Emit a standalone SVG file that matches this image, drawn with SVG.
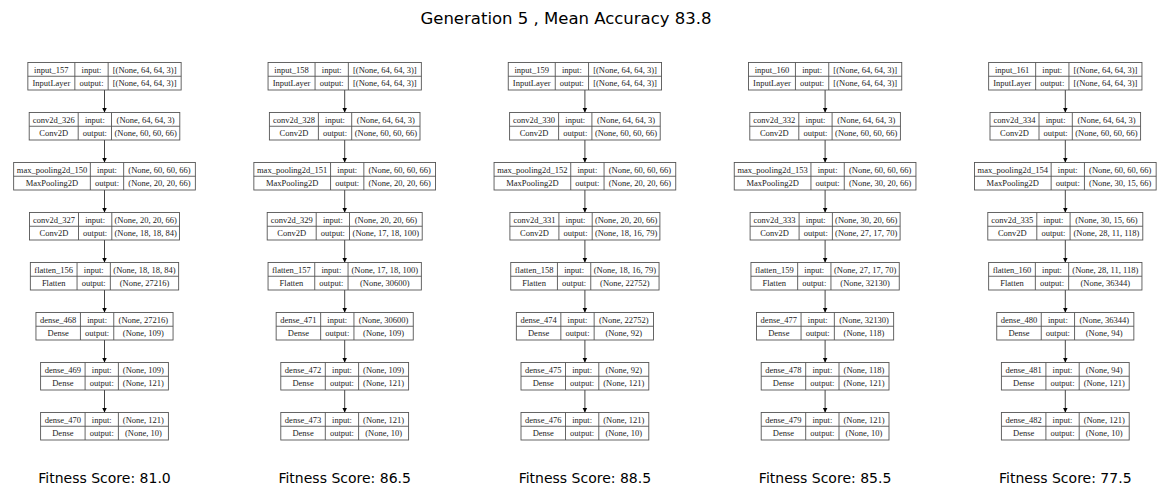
<svg xmlns="http://www.w3.org/2000/svg" width="1169" height="496" viewBox="0 0 1169 496">
<style>
.b rect{fill:#fff;stroke:#555;stroke-width:0.9}
.b line{stroke:#555;stroke-width:0.9}
.b text{font-family:"Liberation Serif","Times New Roman",serif;font-size:8.5px;fill:#222;text-anchor:middle}
.e line{stroke:#444;stroke-width:1}
.h{font-family:"DejaVu Sans",sans-serif;fill:#000;text-anchor:middle}
</style>
<defs>
<marker id="ah" viewBox="0 0 10 10" refX="10" refY="5" markerWidth="5" markerHeight="5.5" markerUnits="userSpaceOnUse" orient="auto">
<path d="M0,0 L10,5 L0,10 z" fill="#000"/>
</marker>
</defs>
<rect width="1169" height="496" fill="#fff"/>
<text class="h" x="566" y="24" font-size="16.5">Generation 5 , Mean Accuracy 83.8</text>

<g class="e" marker-end="url(#ah)">
<line x1="104.5" y1="90" x2="104.5" y2="112.5" marker-end="url(#ah)"/><line x1="104.5" y1="140" x2="104.5" y2="162.5" marker-end="url(#ah)"/><line x1="104.5" y1="190" x2="104.5" y2="212.5" marker-end="url(#ah)"/><line x1="104.5" y1="240" x2="104.5" y2="262.5" marker-end="url(#ah)"/><line x1="104.5" y1="290" x2="104.5" y2="312.5" marker-end="url(#ah)"/><line x1="104.5" y1="340" x2="104.5" y2="362.5" marker-end="url(#ah)"/><line x1="104.5" y1="390" x2="104.5" y2="412.5" marker-end="url(#ah)"/>
<line x1="344.7" y1="90" x2="344.7" y2="112.5" marker-end="url(#ah)"/><line x1="344.7" y1="140" x2="344.7" y2="162.5" marker-end="url(#ah)"/><line x1="344.7" y1="190" x2="344.7" y2="212.5" marker-end="url(#ah)"/><line x1="344.7" y1="240" x2="344.7" y2="262.5" marker-end="url(#ah)"/><line x1="344.7" y1="290" x2="344.7" y2="312.5" marker-end="url(#ah)"/><line x1="344.7" y1="340" x2="344.7" y2="362.5" marker-end="url(#ah)"/><line x1="344.7" y1="390" x2="344.7" y2="412.5" marker-end="url(#ah)"/>
<line x1="584.9" y1="90" x2="584.9" y2="112.5" marker-end="url(#ah)"/><line x1="584.9" y1="140" x2="584.9" y2="162.5" marker-end="url(#ah)"/><line x1="584.9" y1="190" x2="584.9" y2="212.5" marker-end="url(#ah)"/><line x1="584.9" y1="240" x2="584.9" y2="262.5" marker-end="url(#ah)"/><line x1="584.9" y1="290" x2="584.9" y2="312.5" marker-end="url(#ah)"/><line x1="584.9" y1="340" x2="584.9" y2="362.5" marker-end="url(#ah)"/><line x1="584.9" y1="390" x2="584.9" y2="412.5" marker-end="url(#ah)"/>
<line x1="825.1" y1="90" x2="825.1" y2="112.5" marker-end="url(#ah)"/><line x1="825.1" y1="140" x2="825.1" y2="162.5" marker-end="url(#ah)"/><line x1="825.1" y1="190" x2="825.1" y2="212.5" marker-end="url(#ah)"/><line x1="825.1" y1="240" x2="825.1" y2="262.5" marker-end="url(#ah)"/><line x1="825.1" y1="290" x2="825.1" y2="312.5" marker-end="url(#ah)"/><line x1="825.1" y1="340" x2="825.1" y2="362.5" marker-end="url(#ah)"/><line x1="825.1" y1="390" x2="825.1" y2="412.5" marker-end="url(#ah)"/>
<line x1="1065.3" y1="90" x2="1065.3" y2="112.5" marker-end="url(#ah)"/><line x1="1065.3" y1="140" x2="1065.3" y2="162.5" marker-end="url(#ah)"/><line x1="1065.3" y1="190" x2="1065.3" y2="212.5" marker-end="url(#ah)"/><line x1="1065.3" y1="240" x2="1065.3" y2="262.5" marker-end="url(#ah)"/><line x1="1065.3" y1="290" x2="1065.3" y2="312.5" marker-end="url(#ah)"/><line x1="1065.3" y1="340" x2="1065.3" y2="362.5" marker-end="url(#ah)"/><line x1="1065.3" y1="390" x2="1065.3" y2="412.5" marker-end="url(#ah)"/>
</g>

<!-- Column 1 -->
<g id="input_157" class="b" transform="translate(27.85,62.5)"><rect width="153.3" height="27.5"/><line x1="0" y1="13.75" x2="153.3" y2="13.75"/><line x1="47" y1="0" x2="47" y2="27.5"/><line x1="80.3" y1="0" x2="80.3" y2="27.5"/><text x="23.5" y="10">input_157</text><text x="23.5" y="23.7">InputLayer</text><text x="63.65" y="10">input:</text><text x="63.65" y="23.7">output:</text><text x="116.8" y="10">[(None, 64, 64, 3)]</text><text x="116.8" y="23.7">[(None, 64, 64, 3)]</text></g>
<g id="conv2d_326" class="b" transform="translate(29.2,112.5)"><rect width="150.6" height="27.5"/><line x1="0" y1="13.75" x2="150.6" y2="13.75"/><line x1="49" y1="0" x2="49" y2="27.5"/><line x1="82.3" y1="0" x2="82.3" y2="27.5"/><text x="24.5" y="10">conv2d_326</text><text x="24.5" y="23.7">Conv2D</text><text x="65.65" y="10">input:</text><text x="65.65" y="23.7">output:</text><text x="116.45" y="10">(None, 64, 64, 3)</text><text x="116.45" y="23.7">(None, 60, 60, 66)</text></g>
<g id="max_pooling2d_150" class="b" transform="translate(13.65,162.5)"><rect width="181.7" height="27.5"/><line x1="0" y1="13.75" x2="181.7" y2="13.75"/><line x1="76.7" y1="0" x2="76.7" y2="27.5"/><line x1="110" y1="0" x2="110" y2="27.5"/><text x="38.35" y="10">max_pooling2d_150</text><text x="38.35" y="23.7">MaxPooling2D</text><text x="93.35" y="10">input:</text><text x="93.35" y="23.7">output:</text><text x="145.85" y="10">(None, 60, 60, 66)</text><text x="145.85" y="23.7">(None, 20, 20, 66)</text></g>
<g id="conv2d_327" class="b" transform="translate(29.5,212.5)"><rect width="150" height="27.5"/><line x1="0" y1="13.75" x2="150" y2="13.75"/><line x1="49" y1="0" x2="49" y2="27.5"/><line x1="82.3" y1="0" x2="82.3" y2="27.5"/><text x="24.5" y="10">conv2d_327</text><text x="24.5" y="23.7">Conv2D</text><text x="65.65" y="10">input:</text><text x="65.65" y="23.7">output:</text><text x="116.15" y="10">(None, 20, 20, 66)</text><text x="116.15" y="23.7">(None, 18, 18, 84)</text></g>
<g id="flatten_156" class="b" transform="translate(30.35,262.5)"><rect width="148.3" height="27.5"/><line x1="0" y1="13.75" x2="148.3" y2="13.75"/><line x1="46.7" y1="0" x2="46.7" y2="27.5"/><line x1="80" y1="0" x2="80" y2="27.5"/><text x="23.35" y="10">flatten_156</text><text x="23.35" y="23.7">Flatten</text><text x="63.35" y="10">input:</text><text x="63.35" y="23.7">output:</text><text x="114.15" y="10">(None, 18, 18, 84)</text><text x="114.15" y="23.7">(None, 27216)</text></g>
<g id="dense_468" class="b" transform="translate(35.95,312.5)"><rect width="137.1" height="27.5"/><line x1="0" y1="13.75" x2="137.1" y2="13.75"/><line x1="44.5" y1="0" x2="44.5" y2="27.5"/><line x1="77.8" y1="0" x2="77.8" y2="27.5"/><text x="22.25" y="10">dense_468</text><text x="22.25" y="23.7">Dense</text><text x="61.15" y="10">input:</text><text x="61.15" y="23.7">output:</text><text x="107.45" y="10">(None, 27216)</text><text x="107.45" y="23.7">(None, 109)</text></g>
<g id="dense_469" class="b" transform="translate(40.6,362.5)"><rect width="127.8" height="27.5"/><line x1="0" y1="13.75" x2="127.8" y2="13.75"/><line x1="44.5" y1="0" x2="44.5" y2="27.5"/><line x1="77.8" y1="0" x2="77.8" y2="27.5"/><text x="22.25" y="10">dense_469</text><text x="22.25" y="23.7">Dense</text><text x="61.15" y="10">input:</text><text x="61.15" y="23.7">output:</text><text x="102.8" y="10">(None, 109)</text><text x="102.8" y="23.7">(None, 121)</text></g>
<g id="dense_470" class="b" transform="translate(40.6,412.5)"><rect width="127.8" height="27.5"/><line x1="0" y1="13.75" x2="127.8" y2="13.75"/><line x1="44.5" y1="0" x2="44.5" y2="27.5"/><line x1="77.8" y1="0" x2="77.8" y2="27.5"/><text x="22.25" y="10">dense_470</text><text x="22.25" y="23.7">Dense</text><text x="61.15" y="10">input:</text><text x="61.15" y="23.7">output:</text><text x="102.8" y="10">(None, 121)</text><text x="102.8" y="23.7">(None, 10)</text></g>

<!-- Column 2 -->
<g id="input_158" class="b" transform="translate(268.05,62.5)"><rect width="153.3" height="27.5"/><line x1="0" y1="13.75" x2="153.3" y2="13.75"/><line x1="47" y1="0" x2="47" y2="27.5"/><line x1="80.3" y1="0" x2="80.3" y2="27.5"/><text x="23.5" y="10">input_158</text><text x="23.5" y="23.7">InputLayer</text><text x="63.65" y="10">input:</text><text x="63.65" y="23.7">output:</text><text x="116.8" y="10">[(None, 64, 64, 3)]</text><text x="116.8" y="23.7">[(None, 64, 64, 3)]</text></g>
<g id="conv2d_328" class="b" transform="translate(269.4,112.5)"><rect width="150.6" height="27.5"/><line x1="0" y1="13.75" x2="150.6" y2="13.75"/><line x1="49" y1="0" x2="49" y2="27.5"/><line x1="82.3" y1="0" x2="82.3" y2="27.5"/><text x="24.5" y="10">conv2d_328</text><text x="24.5" y="23.7">Conv2D</text><text x="65.65" y="10">input:</text><text x="65.65" y="23.7">output:</text><text x="116.45" y="10">(None, 64, 64, 3)</text><text x="116.45" y="23.7">(None, 60, 60, 66)</text></g>
<g id="max_pooling2d_151" class="b" transform="translate(253.85,162.5)"><rect width="181.7" height="27.5"/><line x1="0" y1="13.75" x2="181.7" y2="13.75"/><line x1="76.7" y1="0" x2="76.7" y2="27.5"/><line x1="110" y1="0" x2="110" y2="27.5"/><text x="38.35" y="10">max_pooling2d_151</text><text x="38.35" y="23.7">MaxPooling2D</text><text x="93.35" y="10">input:</text><text x="93.35" y="23.7">output:</text><text x="145.85" y="10">(None, 60, 60, 66)</text><text x="145.85" y="23.7">(None, 20, 20, 66)</text></g>
<g id="conv2d_329" class="b" transform="translate(267.2,212.5)"><rect width="155" height="27.5"/><line x1="0" y1="13.75" x2="155" y2="13.75"/><line x1="49" y1="0" x2="49" y2="27.5"/><line x1="82.3" y1="0" x2="82.3" y2="27.5"/><text x="24.5" y="10">conv2d_329</text><text x="24.5" y="23.7">Conv2D</text><text x="65.65" y="10">input:</text><text x="65.65" y="23.7">output:</text><text x="118.65" y="10">(None, 20, 20, 66)</text><text x="118.65" y="23.7">(None, 17, 18, 100)</text></g>
<g id="flatten_157" class="b" transform="translate(268.05,262.5)"><rect width="153.3" height="27.5"/><line x1="0" y1="13.75" x2="153.3" y2="13.75"/><line x1="46.7" y1="0" x2="46.7" y2="27.5"/><line x1="80" y1="0" x2="80" y2="27.5"/><text x="23.35" y="10">flatten_157</text><text x="23.35" y="23.7">Flatten</text><text x="63.35" y="10">input:</text><text x="63.35" y="23.7">output:</text><text x="116.65" y="10">(None, 17, 18, 100)</text><text x="116.65" y="23.7">(None, 30600)</text></g>
<g id="dense_471" class="b" transform="translate(276.15,312.5)"><rect width="137.1" height="27.5"/><line x1="0" y1="13.75" x2="137.1" y2="13.75"/><line x1="44.5" y1="0" x2="44.5" y2="27.5"/><line x1="77.8" y1="0" x2="77.8" y2="27.5"/><text x="22.25" y="10">dense_471</text><text x="22.25" y="23.7">Dense</text><text x="61.15" y="10">input:</text><text x="61.15" y="23.7">output:</text><text x="107.45" y="10">(None, 30600)</text><text x="107.45" y="23.7">(None, 109)</text></g>
<g id="dense_472" class="b" transform="translate(280.8,362.5)"><rect width="127.8" height="27.5"/><line x1="0" y1="13.75" x2="127.8" y2="13.75"/><line x1="44.5" y1="0" x2="44.5" y2="27.5"/><line x1="77.8" y1="0" x2="77.8" y2="27.5"/><text x="22.25" y="10">dense_472</text><text x="22.25" y="23.7">Dense</text><text x="61.15" y="10">input:</text><text x="61.15" y="23.7">output:</text><text x="102.8" y="10">(None, 109)</text><text x="102.8" y="23.7">(None, 121)</text></g>
<g id="dense_473" class="b" transform="translate(280.8,412.5)"><rect width="127.8" height="27.5"/><line x1="0" y1="13.75" x2="127.8" y2="13.75"/><line x1="44.5" y1="0" x2="44.5" y2="27.5"/><line x1="77.8" y1="0" x2="77.8" y2="27.5"/><text x="22.25" y="10">dense_473</text><text x="22.25" y="23.7">Dense</text><text x="61.15" y="10">input:</text><text x="61.15" y="23.7">output:</text><text x="102.8" y="10">(None, 121)</text><text x="102.8" y="23.7">(None, 10)</text></g>

<!-- Column 3 -->
<g id="input_159" class="b" transform="translate(508.25,62.5)"><rect width="153.3" height="27.5"/><line x1="0" y1="13.75" x2="153.3" y2="13.75"/><line x1="47" y1="0" x2="47" y2="27.5"/><line x1="80.3" y1="0" x2="80.3" y2="27.5"/><text x="23.5" y="10">input_159</text><text x="23.5" y="23.7">InputLayer</text><text x="63.65" y="10">input:</text><text x="63.65" y="23.7">output:</text><text x="116.8" y="10">[(None, 64, 64, 3)]</text><text x="116.8" y="23.7">[(None, 64, 64, 3)]</text></g>
<g id="conv2d_330" class="b" transform="translate(509.6,112.5)"><rect width="150.6" height="27.5"/><line x1="0" y1="13.75" x2="150.6" y2="13.75"/><line x1="49" y1="0" x2="49" y2="27.5"/><line x1="82.3" y1="0" x2="82.3" y2="27.5"/><text x="24.5" y="10">conv2d_330</text><text x="24.5" y="23.7">Conv2D</text><text x="65.65" y="10">input:</text><text x="65.65" y="23.7">output:</text><text x="116.45" y="10">(None, 64, 64, 3)</text><text x="116.45" y="23.7">(None, 60, 60, 66)</text></g>
<g id="max_pooling2d_152" class="b" transform="translate(494.05,162.5)"><rect width="181.7" height="27.5"/><line x1="0" y1="13.75" x2="181.7" y2="13.75"/><line x1="76.7" y1="0" x2="76.7" y2="27.5"/><line x1="110" y1="0" x2="110" y2="27.5"/><text x="38.35" y="10">max_pooling2d_152</text><text x="38.35" y="23.7">MaxPooling2D</text><text x="93.35" y="10">input:</text><text x="93.35" y="23.7">output:</text><text x="145.85" y="10">(None, 60, 60, 66)</text><text x="145.85" y="23.7">(None, 20, 20, 66)</text></g>
<g id="conv2d_331" class="b" transform="translate(509.9,212.5)"><rect width="150" height="27.5"/><line x1="0" y1="13.75" x2="150" y2="13.75"/><line x1="49" y1="0" x2="49" y2="27.5"/><line x1="82.3" y1="0" x2="82.3" y2="27.5"/><text x="24.5" y="10">conv2d_331</text><text x="24.5" y="23.7">Conv2D</text><text x="65.65" y="10">input:</text><text x="65.65" y="23.7">output:</text><text x="116.15" y="10">(None, 20, 20, 66)</text><text x="116.15" y="23.7">(None, 18, 16, 79)</text></g>
<g id="flatten_158" class="b" transform="translate(510.75,262.5)"><rect width="148.3" height="27.5"/><line x1="0" y1="13.75" x2="148.3" y2="13.75"/><line x1="46.7" y1="0" x2="46.7" y2="27.5"/><line x1="80" y1="0" x2="80" y2="27.5"/><text x="23.35" y="10">flatten_158</text><text x="23.35" y="23.7">Flatten</text><text x="63.35" y="10">input:</text><text x="63.35" y="23.7">output:</text><text x="114.15" y="10">(None, 18, 16, 79)</text><text x="114.15" y="23.7">(None, 22752)</text></g>
<g id="dense_474" class="b" transform="translate(516.35,312.5)"><rect width="137.1" height="27.5"/><line x1="0" y1="13.75" x2="137.1" y2="13.75"/><line x1="44.5" y1="0" x2="44.5" y2="27.5"/><line x1="77.8" y1="0" x2="77.8" y2="27.5"/><text x="22.25" y="10">dense_474</text><text x="22.25" y="23.7">Dense</text><text x="61.15" y="10">input:</text><text x="61.15" y="23.7">output:</text><text x="107.45" y="10">(None, 22752)</text><text x="107.45" y="23.7">(None, 92)</text></g>
<g id="dense_475" class="b" transform="translate(521,362.5)"><rect width="127.8" height="27.5"/><line x1="0" y1="13.75" x2="127.8" y2="13.75"/><line x1="44.5" y1="0" x2="44.5" y2="27.5"/><line x1="77.8" y1="0" x2="77.8" y2="27.5"/><text x="22.25" y="10">dense_475</text><text x="22.25" y="23.7">Dense</text><text x="61.15" y="10">input:</text><text x="61.15" y="23.7">output:</text><text x="102.8" y="10">(None, 92)</text><text x="102.8" y="23.7">(None, 121)</text></g>
<g id="dense_476" class="b" transform="translate(521,412.5)"><rect width="127.8" height="27.5"/><line x1="0" y1="13.75" x2="127.8" y2="13.75"/><line x1="44.5" y1="0" x2="44.5" y2="27.5"/><line x1="77.8" y1="0" x2="77.8" y2="27.5"/><text x="22.25" y="10">dense_476</text><text x="22.25" y="23.7">Dense</text><text x="61.15" y="10">input:</text><text x="61.15" y="23.7">output:</text><text x="102.8" y="10">(None, 121)</text><text x="102.8" y="23.7">(None, 10)</text></g>

<!-- Column 4 -->
<g id="input_160" class="b" transform="translate(748.45,62.5)"><rect width="153.3" height="27.5"/><line x1="0" y1="13.75" x2="153.3" y2="13.75"/><line x1="47" y1="0" x2="47" y2="27.5"/><line x1="80.3" y1="0" x2="80.3" y2="27.5"/><text x="23.5" y="10">input_160</text><text x="23.5" y="23.7">InputLayer</text><text x="63.65" y="10">input:</text><text x="63.65" y="23.7">output:</text><text x="116.8" y="10">[(None, 64, 64, 3)]</text><text x="116.8" y="23.7">[(None, 64, 64, 3)]</text></g>
<g id="conv2d_332" class="b" transform="translate(749.8,112.5)"><rect width="150.6" height="27.5"/><line x1="0" y1="13.75" x2="150.6" y2="13.75"/><line x1="49" y1="0" x2="49" y2="27.5"/><line x1="82.3" y1="0" x2="82.3" y2="27.5"/><text x="24.5" y="10">conv2d_332</text><text x="24.5" y="23.7">Conv2D</text><text x="65.65" y="10">input:</text><text x="65.65" y="23.7">output:</text><text x="116.45" y="10">(None, 64, 64, 3)</text><text x="116.45" y="23.7">(None, 60, 60, 66)</text></g>
<g id="max_pooling2d_153" class="b" transform="translate(734.25,162.5)"><rect width="181.7" height="27.5"/><line x1="0" y1="13.75" x2="181.7" y2="13.75"/><line x1="76.7" y1="0" x2="76.7" y2="27.5"/><line x1="110" y1="0" x2="110" y2="27.5"/><text x="38.35" y="10">max_pooling2d_153</text><text x="38.35" y="23.7">MaxPooling2D</text><text x="93.35" y="10">input:</text><text x="93.35" y="23.7">output:</text><text x="145.85" y="10">(None, 60, 60, 66)</text><text x="145.85" y="23.7">(None, 30, 20, 66)</text></g>
<g id="conv2d_333" class="b" transform="translate(750.1,212.5)"><rect width="150" height="27.5"/><line x1="0" y1="13.75" x2="150" y2="13.75"/><line x1="49" y1="0" x2="49" y2="27.5"/><line x1="82.3" y1="0" x2="82.3" y2="27.5"/><text x="24.5" y="10">conv2d_333</text><text x="24.5" y="23.7">Conv2D</text><text x="65.65" y="10">input:</text><text x="65.65" y="23.7">output:</text><text x="116.15" y="10">(None, 30, 20, 66)</text><text x="116.15" y="23.7">(None, 27, 17, 70)</text></g>
<g id="flatten_159" class="b" transform="translate(750.95,262.5)"><rect width="148.3" height="27.5"/><line x1="0" y1="13.75" x2="148.3" y2="13.75"/><line x1="46.7" y1="0" x2="46.7" y2="27.5"/><line x1="80" y1="0" x2="80" y2="27.5"/><text x="23.35" y="10">flatten_159</text><text x="23.35" y="23.7">Flatten</text><text x="63.35" y="10">input:</text><text x="63.35" y="23.7">output:</text><text x="114.15" y="10">(None, 27, 17, 70)</text><text x="114.15" y="23.7">(None, 32130)</text></g>
<g id="dense_477" class="b" transform="translate(756.55,312.5)"><rect width="137.1" height="27.5"/><line x1="0" y1="13.75" x2="137.1" y2="13.75"/><line x1="44.5" y1="0" x2="44.5" y2="27.5"/><line x1="77.8" y1="0" x2="77.8" y2="27.5"/><text x="22.25" y="10">dense_477</text><text x="22.25" y="23.7">Dense</text><text x="61.15" y="10">input:</text><text x="61.15" y="23.7">output:</text><text x="107.45" y="10">(None, 32130)</text><text x="107.45" y="23.7">(None, 118)</text></g>
<g id="dense_478" class="b" transform="translate(761.2,362.5)"><rect width="127.8" height="27.5"/><line x1="0" y1="13.75" x2="127.8" y2="13.75"/><line x1="44.5" y1="0" x2="44.5" y2="27.5"/><line x1="77.8" y1="0" x2="77.8" y2="27.5"/><text x="22.25" y="10">dense_478</text><text x="22.25" y="23.7">Dense</text><text x="61.15" y="10">input:</text><text x="61.15" y="23.7">output:</text><text x="102.8" y="10">(None, 118)</text><text x="102.8" y="23.7">(None, 121)</text></g>
<g id="dense_479" class="b" transform="translate(761.2,412.5)"><rect width="127.8" height="27.5"/><line x1="0" y1="13.75" x2="127.8" y2="13.75"/><line x1="44.5" y1="0" x2="44.5" y2="27.5"/><line x1="77.8" y1="0" x2="77.8" y2="27.5"/><text x="22.25" y="10">dense_479</text><text x="22.25" y="23.7">Dense</text><text x="61.15" y="10">input:</text><text x="61.15" y="23.7">output:</text><text x="102.8" y="10">(None, 121)</text><text x="102.8" y="23.7">(None, 10)</text></g>

<!-- Column 5 -->
<g id="input_161" class="b" transform="translate(988.65,62.5)"><rect width="153.3" height="27.5"/><line x1="0" y1="13.75" x2="153.3" y2="13.75"/><line x1="47" y1="0" x2="47" y2="27.5"/><line x1="80.3" y1="0" x2="80.3" y2="27.5"/><text x="23.5" y="10">input_161</text><text x="23.5" y="23.7">InputLayer</text><text x="63.65" y="10">input:</text><text x="63.65" y="23.7">output:</text><text x="116.8" y="10">[(None, 64, 64, 3)]</text><text x="116.8" y="23.7">[(None, 64, 64, 3)]</text></g>
<g id="conv2d_334" class="b" transform="translate(990,112.5)"><rect width="150.6" height="27.5"/><line x1="0" y1="13.75" x2="150.6" y2="13.75"/><line x1="49" y1="0" x2="49" y2="27.5"/><line x1="82.3" y1="0" x2="82.3" y2="27.5"/><text x="24.5" y="10">conv2d_334</text><text x="24.5" y="23.7">Conv2D</text><text x="65.65" y="10">input:</text><text x="65.65" y="23.7">output:</text><text x="116.45" y="10">(None, 64, 64, 3)</text><text x="116.45" y="23.7">(None, 60, 60, 66)</text></g>
<g id="max_pooling2d_154" class="b" transform="translate(974.45,162.5)"><rect width="181.7" height="27.5"/><line x1="0" y1="13.75" x2="181.7" y2="13.75"/><line x1="76.7" y1="0" x2="76.7" y2="27.5"/><line x1="110" y1="0" x2="110" y2="27.5"/><text x="38.35" y="10">max_pooling2d_154</text><text x="38.35" y="23.7">MaxPooling2D</text><text x="93.35" y="10">input:</text><text x="93.35" y="23.7">output:</text><text x="145.85" y="10">(None, 60, 60, 66)</text><text x="145.85" y="23.7">(None, 30, 15, 66)</text></g>
<g id="conv2d_335" class="b" transform="translate(987.8,212.5)"><rect width="155" height="27.5"/><line x1="0" y1="13.75" x2="155" y2="13.75"/><line x1="49" y1="0" x2="49" y2="27.5"/><line x1="82.3" y1="0" x2="82.3" y2="27.5"/><text x="24.5" y="10">conv2d_335</text><text x="24.5" y="23.7">Conv2D</text><text x="65.65" y="10">input:</text><text x="65.65" y="23.7">output:</text><text x="118.65" y="10">(None, 30, 15, 66)</text><text x="118.65" y="23.7">(None, 28, 11, 118)</text></g>
<g id="flatten_160" class="b" transform="translate(988.65,262.5)"><rect width="153.3" height="27.5"/><line x1="0" y1="13.75" x2="153.3" y2="13.75"/><line x1="46.7" y1="0" x2="46.7" y2="27.5"/><line x1="80" y1="0" x2="80" y2="27.5"/><text x="23.35" y="10">flatten_160</text><text x="23.35" y="23.7">Flatten</text><text x="63.35" y="10">input:</text><text x="63.35" y="23.7">output:</text><text x="116.65" y="10">(None, 28, 11, 118)</text><text x="116.65" y="23.7">(None, 36344)</text></g>
<g id="dense_480" class="b" transform="translate(996.75,312.5)"><rect width="137.1" height="27.5"/><line x1="0" y1="13.75" x2="137.1" y2="13.75"/><line x1="44.5" y1="0" x2="44.5" y2="27.5"/><line x1="77.8" y1="0" x2="77.8" y2="27.5"/><text x="22.25" y="10">dense_480</text><text x="22.25" y="23.7">Dense</text><text x="61.15" y="10">input:</text><text x="61.15" y="23.7">output:</text><text x="107.45" y="10">(None, 36344)</text><text x="107.45" y="23.7">(None, 94)</text></g>
<g id="dense_481" class="b" transform="translate(1001.4,362.5)"><rect width="127.8" height="27.5"/><line x1="0" y1="13.75" x2="127.8" y2="13.75"/><line x1="44.5" y1="0" x2="44.5" y2="27.5"/><line x1="77.8" y1="0" x2="77.8" y2="27.5"/><text x="22.25" y="10">dense_481</text><text x="22.25" y="23.7">Dense</text><text x="61.15" y="10">input:</text><text x="61.15" y="23.7">output:</text><text x="102.8" y="10">(None, 94)</text><text x="102.8" y="23.7">(None, 121)</text></g>
<g id="dense_482" class="b" transform="translate(1001.4,412.5)"><rect width="127.8" height="27.5"/><line x1="0" y1="13.75" x2="127.8" y2="13.75"/><line x1="44.5" y1="0" x2="44.5" y2="27.5"/><line x1="77.8" y1="0" x2="77.8" y2="27.5"/><text x="22.25" y="10">dense_482</text><text x="22.25" y="23.7">Dense</text><text x="61.15" y="10">input:</text><text x="61.15" y="23.7">output:</text><text x="102.8" y="10">(None, 121)</text><text x="102.8" y="23.7">(None, 10)</text></g>

<text class="h" x="104.5" y="483" font-size="14">Fitness Score: 81.0</text>
<text class="h" x="344.7" y="483" font-size="14">Fitness Score: 86.5</text>
<text class="h" x="584.9" y="483" font-size="14">Fitness Score: 88.5</text>
<text class="h" x="825.1" y="483" font-size="14">Fitness Score: 85.5</text>
<text class="h" x="1065.3" y="483" font-size="14">Fitness Score: 77.5</text>
</svg>
